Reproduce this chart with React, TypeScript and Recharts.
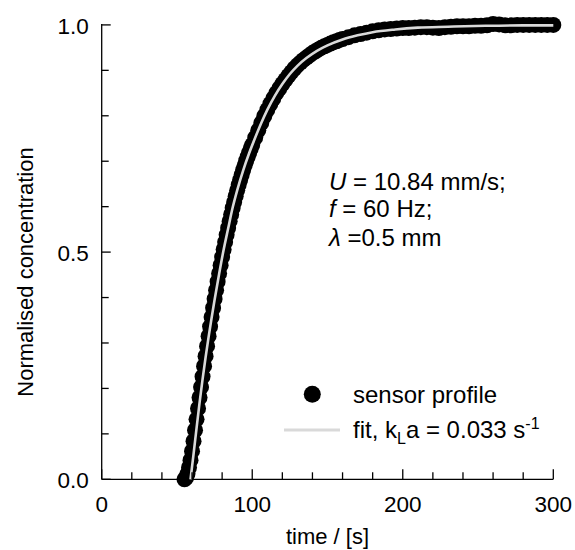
import React from "react";
import { ComposedChart, Scatter, XAxis, YAxis, Legend, Customized } from "recharts";

// sensor profile (time in s, normalised concentration)
const sensorTime = [
  55, 56, 57, 58, 59, 60, 61, 62, 63, 64, 65, 66, 67, 68, 69, 70, 71, 72, 73, 74,
  75, 76, 77, 78, 79, 80, 81, 82, 83, 84, 85, 86, 87, 88, 89, 90, 91, 92, 93, 94,
  95, 96, 97, 98, 99, 100, 102, 104, 106, 108, 110, 112, 114, 116, 118, 120, 122,
  124, 126, 128, 130, 132, 134, 136, 138, 140, 142, 144, 146, 148, 150, 152, 154,
  156, 158, 160, 164, 168, 172, 176, 180, 184, 188, 192, 196, 200, 204, 208, 212,
  216, 220, 224, 228, 232, 236, 240, 244, 248, 252, 256, 260, 264, 268, 272, 276,
  280, 284, 288, 292, 296, 300,
];
const sensorConc = [
  0.0, 0.003, 0.012, 0.026, 0.042, 0.062, 0.084, 0.108, 0.132, 0.156, 0.18, 0.203,
  0.226, 0.249, 0.271, 0.293, 0.315, 0.336, 0.357, 0.377, 0.397, 0.416, 0.435,
  0.453, 0.471, 0.489, 0.506, 0.522, 0.538, 0.553, 0.568, 0.583, 0.597, 0.61,
  0.623, 0.636, 0.648, 0.659, 0.67, 0.681, 0.691, 0.701, 0.71, 0.719, 0.728, 0.736,
  0.752, 0.768, 0.784, 0.799, 0.813, 0.826, 0.838, 0.85, 0.86, 0.87, 0.879, 0.888,
  0.896, 0.904, 0.911, 0.917, 0.923, 0.928, 0.933, 0.938, 0.942, 0.946, 0.95,
  0.953, 0.956, 0.959, 0.962, 0.964, 0.967, 0.969, 0.973, 0.977, 0.98, 0.983,
  0.986, 0.988, 0.99, 0.991, 0.992, 0.993, 0.993, 0.994, 0.995, 0.995, 0.994,
  0.993, 0.995, 0.996, 0.997, 0.997, 0.997, 0.998, 0.998, 0.999, 1.002, 1.001,
  0.999, 0.999, 1.0, 1.0, 1.0, 1.0, 1.0, 1.0, 1.0,
];

// fitted curve, kLa = 0.033 1/s
const fitTime = [
  59, 61, 63, 65, 67, 69, 71, 73, 75, 78, 81, 84, 87, 90, 94, 98, 102, 106, 110,
  115, 120, 125, 130, 136, 143, 150, 160, 170, 180, 195, 210, 230, 255, 280, 300,
];
const fitConc = [
  0.0, 0.055, 0.112, 0.168, 0.22, 0.268, 0.313, 0.355, 0.395, 0.452, 0.505, 0.552,
  0.598, 0.636, 0.68, 0.718, 0.752, 0.784, 0.813, 0.844, 0.87, 0.892, 0.91, 0.927,
  0.943, 0.955, 0.968, 0.977, 0.984, 0.99, 0.994, 0.996, 0.998, 0.999, 0.999,
];

const xTicks = [0, 20, 40, 60, 80, 100, 120, 140, 160, 180, 200, 220, 240, 260, 280, 300];
const xMajor = [0, 100, 200, 300];
const yTicks = [0, 0.1, 0.2, 0.3, 0.4, 0.5, 0.6, 0.7, 0.8, 0.9, 1.0];
const yMajor = [0, 0.5, 1.0];

const sensor = sensorTime.map((t, i) => ({ t, c: sensorConc[i] }));
const fit = fitTime.map((t, i) => ({ t, c: fitConc[i] }));

const FONT = "'Liberation Sans', Arial, sans-serif";
const FIT_GREY = "#d9d9d9";

function XTick({ x, y, payload }: any) {
  const major = xMajor.includes(payload.value);
  return (
    <g>
      <line x1={x} x2={x} y1={y} y2={y - (major ? 10 : 7)} stroke="#000" strokeWidth={1.3} />
      {major && (
        <text x={x} y={y + 33} textAnchor="middle" fontSize={22.5} fontFamily={FONT} fill="#000">
          {payload.value}
        </text>
      )}
    </g>
  );
}

function YTick({ x, y, payload }: any) {
  const major = yMajor.includes(payload.value);
  return (
    <g>
      <line x1={x} x2={x + (major ? 9 : 7)} y1={y} y2={y} stroke="#000" strokeWidth={1.3} />
      {major && (
        <text x={x - 13} y={y + 9} textAnchor="end" fontSize={22.5} fontFamily={FONT} fill="#000">
          {payload.value.toFixed(1)}
        </text>
      )}
    </g>
  );
}

function LegendBox() {
  return (
    <svg width={290} height={80} style={{ display: "block" }}>
      <circle cx={32.3} cy={19.3} r={8.5} fill="#000" />
      <text x={73} y={28} fontSize={24} fontFamily={FONT} fill="#000">sensor profile</text>
      <line x1={4} x2={60} y1={55} y2={55} stroke={FIT_GREY} strokeWidth={3} />
      <text x={73} y={63} fontSize={24} fontFamily={FONT} fill="#000">
        fit, k<tspan dy={6} fontSize={16}>L</tspan>
        <tspan dy={-6}>a = 0.033 s</tspan>
        <tspan dy={-9} fontSize={16}>-1</tspan>
      </text>
    </svg>
  );
}

function Notes() {
  return (
    <g fontFamily={FONT} fill="#000" fontSize={24}>
      <text x={329} y={190}>
        <tspan fontStyle="italic">U</tspan> = 10.84 mm/s;
      </text>
      <text x={329} y={217}>
        <tspan fontStyle="italic">f</tspan> = 60 Hz;
      </text>
      <text x={329} y={246}>
        <tspan fontStyle="italic">λ</tspan> =0.5 mm
      </text>
      <text x={327.5} y={544} textAnchor="middle" fontSize={22}>time / [s]</text>
      <text x={33} y={272} textAnchor="middle" fontSize={22} transform="rotate(-90 33 272)">
        Normalised concentration
      </text>
    </g>
  );
}

export default function App() {
  return (
    <div style={{ position: "absolute", left: 0, top: 0, background: "#fff" }}>
      <ComposedChart width={575} height={550} margin={{ top: 24, right: 21.7, left: 0, bottom: 30.7 }}>
        <XAxis
          dataKey="t"
          type="number"
          domain={[0, 300]}
          ticks={xTicks}
          interval={0}
          tickSize={0}
          tickMargin={0}
          tickLine={false}
          axisLine={{ stroke: "#000", strokeWidth: 1.3 }}
          tick={<XTick />}
          height={40}
        />
        <YAxis
          type="number"
          domain={[0, 1]}
          ticks={yTicks}
          interval={0}
          tickSize={0}
          tickMargin={0}
          tickLine={false}
          axisLine={{ stroke: "#000", strokeWidth: 1.3 }}
          tick={<YTick />}
          width={101.7}
        />
        <Scatter
          data={sensor}
          dataKey="c"
          fill="#000"
          isAnimationActive={false}
          shape={(p: any) => <circle cx={p.cx} cy={p.cy} r={8} fill="#000" />}
        />
        <Scatter
          data={fit}
          dataKey="c"
          fill={FIT_GREY}
          line={{ stroke: FIT_GREY, strokeWidth: 2.6 }}
          lineType="joint"
          lineJointType="monotoneX"
          isAnimationActive={false}
          shape={() => <g />}
        />
        <Legend
          layout="vertical"
          align="center"
          verticalAlign="middle"
          content={() => <LegendBox />}
          wrapperStyle={{ position: "absolute", left: 280, top: 375, width: 290, height: 80 }}
        />
        <Customized component={() => <Notes />} />
      </ComposedChart>
    </div>
  );
}
